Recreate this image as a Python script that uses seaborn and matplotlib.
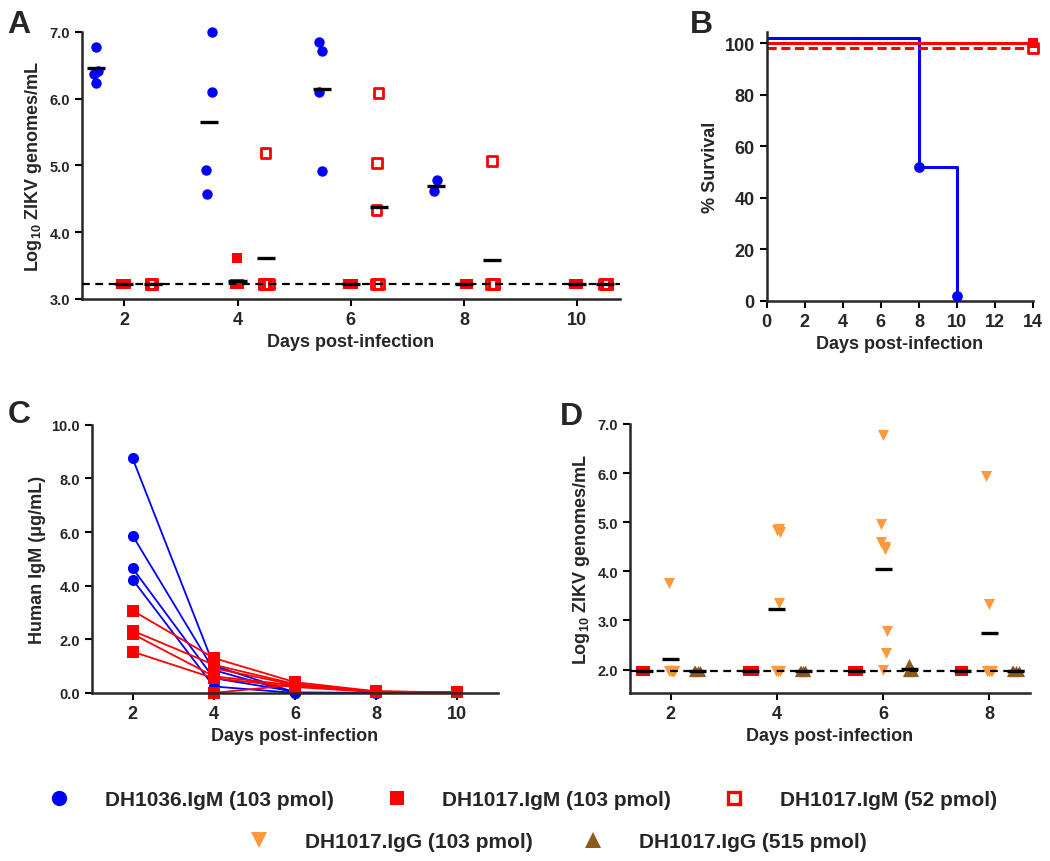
import numpy as np
import pandas as pd
import matplotlib
matplotlib.use('Agg')
import matplotlib.pyplot as plt
from matplotlib.lines import Line2D
import seaborn as sns

# ---------------- colours ----------------
BLUE = '#0000FF'
RED = '#FF0000'
ORANGE = '#FF9A3C'
BROWN = '#8C5A1E'

# ---------------- panel A: viremia after IgM ----------------
LOD_A = 3.22
a_days = [2, 4, 6, 8, 10]
a_dh1036_103 = {2: [6.77, 6.42, 6.37, 6.24], 4: [7.00, 6.10, 4.93, 4.57],
                6: [6.84, 6.71, 6.10, 4.92], 8: [4.78, 4.61]}
a_dh1017_103 = {2: [3.22] * 5, 4: [3.61, 3.22, 3.22, 3.22, 3.22],
                6: [3.22] * 5, 8: [3.22] * 5, 10: [3.22] * 5}
a_dh1017_52 = {2: [3.22] * 5, 4: [5.19, 3.22, 3.22, 3.22, 3.22],
               6: [6.08, 5.04, 4.33, 3.22, 3.22], 8: [5.06, 3.22, 3.22, 3.22],
               10: [3.22] * 4}
a_mean_dh1036_103 = [6.46, 5.65, 6.14, 4.69, np.nan]
a_mean_dh1017_103 = [3.22, 3.27, 3.22, 3.22, 3.22]
a_mean_dh1017_52 = [3.22, 3.61, 4.38, 3.58, 3.22]

# ---------------- panel B: survival ----------------
# Prism nudges overlapping curves, values as drawn
b_time_dh1036 = [0, 8, 10]
b_surv_dh1036 = [102, 52, 2]
b_time_dh1017_103 = [0, 14]
b_surv_dh1017_103 = [100, 100]
b_time_dh1017_52 = [0, 14]
b_surv_dh1017_52 = [98, 98]

# ---------------- panel C: human IgM in serum ----------------
c_days = [2, 4, 6, 8, 10]
c_dh1036 = [[8.75, 1.02, 0.02, 0.00, np.nan],
            [5.87, 0.85, 0.00, 0.00, np.nan],
            [4.65, 0.55, 0.05, np.nan, np.nan],
            [4.23, 0.24, 0.00, np.nan, np.nan]]
c_dh1017 = [[3.07, 1.30, 0.40, 0.06, 0.02],
            [2.32, 1.05, 0.33, 0.05, 0.02],
            [2.20, 0.62, 0.28, 0.04, 0.02],
            [1.54, 0.55, 0.22, 0.03, 0.02],
            [np.nan, 0.92, 0.30, 0.05, 0.02],
            [np.nan, 0.00, 0.30, 0.04, 0.02]]

# ---------------- panel D: viremia after IgG ----------------
LOD_D = 1.98
d_days = [2, 4, 6, 8]
d_dh1017m_103 = {2: [1.98] * 5, 4: [1.98] * 5, 6: [1.98] * 5, 8: [1.98] * 5}
d_dh1017g_103 = {2: [3.77] + [1.98] * 7,
                 4: [4.87, 4.84, 4.80, 3.35] + [1.98] * 4,
                 6: [6.77, 4.97, 4.59, 4.50, 4.45, 2.78, 2.34, 2.00],
                 8: [5.94, 3.34] + [1.98] * 5}
d_dh1017g_515 = {2: [1.98] * 5, 4: [1.98] * 5, 6: [2.12] + [1.98] * 4, 8: [1.98] * 5}
d_mean_dh1017m_103 = [1.98, 1.98, 1.98, 1.98]
d_mean_dh1017g_103 = [2.22, 3.23, 4.04, 2.74]
d_mean_dh1017g_515 = [1.98, 1.98, 2.02, 1.98]

labels_row1 = ['DH1036.IgM (103 pmol)', 'DH1017.IgM (103 pmol)', 'DH1017.IgM (52 pmol)']
labels_row2 = ['DH1017.IgG (103 pmol)', 'DH1017.IgG (515 pmol)']

# ---------------- style ----------------
sns.set_theme(style='ticks')
plt.rcParams['font.family'] = ['Liberation Sans', 'DejaVu Sans']
plt.rcParams['font.weight'] = 'bold'
plt.rcParams['axes.labelweight'] = 'bold'
plt.rcParams['axes.linewidth'] = 1.8
plt.rcParams['mathtext.fontset'] = 'custom'
plt.rcParams['mathtext.rm'] = 'Liberation Sans:bold'
plt.rcParams['mathtext.bf'] = 'Liberation Sans:bold'
plt.rcParams['mathtext.it'] = 'Liberation Sans:bold'
np.random.seed(3)

fig = plt.figure(figsize=(10.5, 8.62), dpi=100)


def to_long(groups, offset):
    rows = [(d + offset, v) for d, vals in groups.items() for v in vals]
    return pd.DataFrame(rows, columns=['x', 'value'])


def strip(ax, groups, offset, color, marker, filled=True, size=7.5):
    n0 = len(ax.collections)
    sns.stripplot(data=to_long(groups, offset), x='x', y='value', native_scale=True,
                  orient='v', jitter=0.035, color=color, marker=marker, size=size,
                  linewidth=0, ax=ax, zorder=3, clip_on=False)
    if not filled:
        for coll in ax.collections[n0:]:
            coll.set_facecolor('none')
            coll.set_edgecolor(color)
            coll.set_linewidth(2)


def mean_bars(ax, days, means, offset, half=0.16):
    x = np.array(days, dtype=float) + offset
    ax.hlines(means, x - half, x + half, color='black', lw=2.4, zorder=4)


def style_axis(ax, xsize=13, ysize=10.5):
    sns.despine(ax=ax)
    ax.tick_params(axis='both', direction='out', length=5, width=1.5, color='black')
    ax.tick_params(axis='x', labelsize=xsize)
    ax.tick_params(axis='y', labelsize=ysize)
    ax.set_xlabel('Days post-infection', fontsize=13)


# ==================== A ====================
axA = fig.add_axes([0.078, 0.652, 0.512, 0.310])
strip(axA, a_dh1036_103, -0.5, BLUE, 'o')
strip(axA, a_dh1017_103, 0.0, RED, 's')
strip(axA, a_dh1017_52, 0.5, RED, 's', filled=False, size=7)
mean_bars(axA, a_days, a_mean_dh1036_103, -0.5)
mean_bars(axA, a_days, a_mean_dh1017_103, 0.0)
mean_bars(axA, a_days, a_mean_dh1017_52, 0.5)
axA.axhline(LOD_A, color='black', lw=1.6, ls=(0, (3.5, 2.5)), zorder=5)
axA.set_xlim(1.25, 10.75)
axA.set_ylim(3.0, 7.0)
axA.set_xticks(a_days)
axA.set_yticks([3, 4, 5, 6, 7])
axA.yaxis.set_major_formatter(plt.FuncFormatter(lambda v, p: f'{v:.1f}'))
style_axis(axA)
axA.set_ylabel('Log$_{10}$ ZIKV genomes/mL', fontsize=13)

# ==================== B ====================
axB = fig.add_axes([0.730, 0.650, 0.254, 0.312])
sns.lineplot(x=b_time_dh1036, y=b_surv_dh1036, drawstyle='steps-post', color=BLUE,
             lw=2.2, ax=axB)
sns.lineplot(x=b_time_dh1017_103, y=b_surv_dh1017_103, color=RED, lw=2.2, ax=axB)
sns.lineplot(x=b_time_dh1017_52, y=b_surv_dh1017_52, color=RED, lw=2.2, ax=axB,
             linestyle=(0, (3, 1.5)))
sns.scatterplot(x=b_time_dh1036[1:], y=b_surv_dh1036[1:], color=BLUE, marker='o', s=60,
                linewidth=0, ax=axB, zorder=4, clip_on=False)
sns.scatterplot(x=b_time_dh1017_52[-1:], y=b_surv_dh1017_52[-1:], marker='s', s=50,
                facecolor='white', edgecolor=RED, linewidth=2, ax=axB, zorder=4, clip_on=False)
sns.scatterplot(x=b_time_dh1017_103[-1:], y=b_surv_dh1017_103[-1:], color=RED, marker='s',
                s=50, linewidth=0, ax=axB, zorder=5, clip_on=False)
axB.set_xlim(0, 14)
axB.set_ylim(0, 104.4)
axB.set_xticks(range(0, 15, 2))
axB.set_yticks(range(0, 101, 20))
style_axis(axB, ysize=13)
axB.set_ylabel('% Survival', fontsize=13)

# ==================== C ====================
axC = fig.add_axes([0.0876, 0.195, 0.3867, 0.311])
rows = []
for i, vals in enumerate(c_dh1036):
    rows += [('DH1036', f'b{i}', d, v) for d, v in zip(c_days, vals)]
for i, vals in enumerate(c_dh1017):
    rows += [('DH1017', f'r{i}', d, v) for d, v in zip(c_days, vals)]
dfC = pd.DataFrame(rows, columns=['group', 'mouse', 'day', 'value']).dropna()
sns.lineplot(data=dfC, x='day', y='value', hue='group', style='group', units='mouse',
             estimator=None, palette={'DH1036': BLUE, 'DH1017': RED},
             markers={'DH1036': 'o', 'DH1017': 's'}, dashes=False, markersize=8,
             markeredgewidth=0, lw=1.3, legend=False, ax=axC, clip_on=False)
axC.set_xlim(1.0, 11.0)
axC.set_ylim(0, 10)
axC.set_xticks(c_days)
axC.set_yticks(range(0, 11, 2))
axC.yaxis.set_major_formatter(plt.FuncFormatter(lambda v, p: f'{v:.1f}'))
style_axis(axC)
axC.set_ylabel('Human IgM (μg/mL)', fontsize=13)

# ==================== D ====================
axD = fig.add_axes([0.600, 0.195, 0.381, 0.312])
strip(axD, d_dh1017m_103, -0.5, RED, 's')
strip(axD, d_dh1017g_103, 0.0, ORANGE, 'v', size=8)
strip(axD, d_dh1017g_515, 0.5, BROWN, '^', size=8)
mean_bars(axD, d_days, d_mean_dh1017m_103, -0.5)
mean_bars(axD, d_days, d_mean_dh1017g_103, 0.0)
mean_bars(axD, d_days, d_mean_dh1017g_515, 0.5)
axD.axhline(LOD_D, color='black', lw=1.6, ls=(0, (3.5, 2.5)), zorder=5)
axD.set_xlim(1.23, 8.77)
axD.set_ylim(1.525, 7.0)
axD.set_xticks(d_days)
axD.set_yticks([2, 3, 4, 5, 6, 7])
axD.yaxis.set_major_formatter(plt.FuncFormatter(lambda v, p: f'{v:.1f}'))
style_axis(axD)
axD.set_ylabel('Log$_{10}$ ZIKV genomes/mL', fontsize=13)

# ==================== panel letters ====================
for x, y, letter in [(0.007, 0.9617, 'A'), (0.657, 0.9617, 'B'),
                     (0.007, 0.509, 'C'), (0.533, 0.507, 'D')]:
    fig.text(x, y, letter, fontsize=23, fontweight='bold', va='baseline')

# ==================== legend ====================
h1 = [Line2D([], [], ls='none', marker='o', color=BLUE, markersize=11, mew=0),
      Line2D([], [], ls='none', marker='s', color=RED, markersize=10, mew=0),
      Line2D([], [], ls='none', marker='s', mfc='white', mec=RED, markersize=9, mew=2.4)]
h2 = [Line2D([], [], ls='none', marker='v', color=ORANGE, markersize=11, mew=0),
      Line2D([], [], ls='none', marker='^', color=BROWN, markersize=11, mew=0)]
fig.legend(handles=h1, labels=labels_row1, loc='center', bbox_to_anchor=(0.498, 1 - 801 / 862),
           ncol=3, frameon=False, fontsize=15, handlelength=1, handletextpad=1.7,
           columnspacing=2.5)
fig.legend(handles=h2, labels=labels_row2, loc='center', bbox_to_anchor=(0.531, 1 - 843 / 862),
           ncol=2, frameon=False, fontsize=15, handlelength=1, handletextpad=1.7,
           columnspacing=2.4)

fig.savefig('out.png', dpi=100)
plt.close(fig)
